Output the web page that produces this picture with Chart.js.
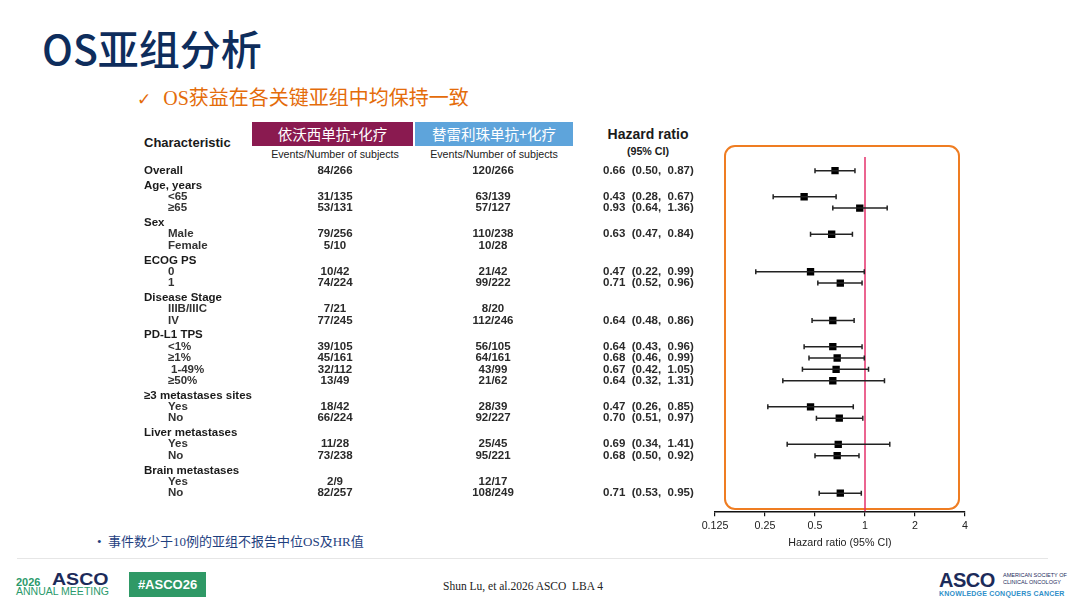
<!DOCTYPE html>
<html>
<head>
<meta charset="utf-8">
<script src="https://cdn.jsdelivr.net/npm/chart.js@4"></script>
<style>
  body { margin:0; width:1080px; height:608px; background:#fff; overflow:hidden; position:relative; font-family:"Liberation Sans", Arial, sans-serif; }
  .abs { position:absolute; white-space:nowrap; }
  #title { left:42px; top:17px; font:500 41px "Noto Sans CJK SC", sans-serif; color:#0e2d5c; }
  #sub { left:137px; top:82px; font:20px "Liberation Serif", "Noto Sans CJK SC", serif; color:#e46c0a; }
  #sub span { font-family:"DejaVu Sans", sans-serif; font-size:17px; font-weight:bold; margin-right:12px; }
  .hbox { top:122px; height:24px; line-height:24px; color:#fff; text-align:center; font:14.5px/24px "Noto Sans CJK SC", sans-serif; }
  .ev { top:148px; font-size:10.7px; color:#222; transform:translateX(-50%); }
  #charh { left:144px; top:135px; font-weight:bold; font-size:13px; color:#1a1a1a; }
  #hrh { left:648px; top:126px; font-weight:bold; font-size:14px; color:#1a1a1a; transform:translateX(-50%); text-align:center; line-height:16px; }
  #hrh small { font-size:10.7px; }
  #obox { left:724px; top:145px; width:236px; height:365px; border:2.5px solid #ef7d22; border-radius:11px; box-sizing:border-box; }
  #note { left:97px; top:531px; font:13px "Liberation Serif", "Noto Sans CJK SC", serif; color:#1f3f7f; }
  #sep { left:17px; top:558px; width:1031px; height:1px; background:#e6e6e6; }
  #cite { left:443px; top:580px; font:11.5px "Liberation Serif", serif; color:#222; }
  #tag { left:129px; top:572px; width:77px; height:25px; background:#2f9966; color:#fff; font-weight:bold; font-size:13px; line-height:25px; text-align:center; }
  canvas { position:absolute; left:0; top:0; }
</style>
</head>
<body>
<div class="abs" id="title">OS亚组分析</div>
<div class="abs" id="sub"><span>✓</span>OS获益在各关键亚组中均保持一致</div>

<div class="abs hbox" style="left:252px;width:161px;background:#8a1a50;">依沃西单抗+化疗</div>
<div class="abs hbox" style="left:415px;width:158px;background:#5ea4db;">替雷利珠单抗+化疗</div>
<div class="abs ev" style="left:335px;">Events/Number of subjects</div>
<div class="abs ev" style="left:494px;">Events/Number of subjects</div>
<div class="abs" id="charh">Characteristic</div>
<div class="abs" id="hrh">Hazard ratio<br><small>(95% CI)</small></div>
<div class="abs" id="obox"></div>

<div class="abs" id="note">•&nbsp;&nbsp;事件数少于10例的亚组不报告中位OS及HR值</div>
<div class="abs" id="sep"></div>

<div class="abs" style="left:16px;top:577px;color:#2b9a6b;font-weight:bold;font-size:11px;line-height:1;">2026</div>
<div class="abs" style="left:52px;top:571px;color:#1c2b5a;font-weight:bold;font-size:17px;line-height:1;transform:scaleX(1.15);transform-origin:left center;">ASCO</div>
<div class="abs" style="left:16px;top:586px;color:#2b9a6b;font-size:10.5px;line-height:1;">ANNUAL MEETING</div>
<div class="abs" id="tag">#ASCO26</div>
<div class="abs" id="cite">Shun Lu, et al.2026 ASCO&nbsp; LBA 4</div>
<div class="abs" style="left:939px;top:569px;color:#1c2b5a;font-weight:bold;font-size:20px;letter-spacing:-0.5px;">ASCO</div>
<div class="abs" style="left:1003px;top:572px;color:#1c2b5a;font-size:5.5px;line-height:7px;">AMERICAN SOCIETY OF<br>CLINICAL ONCOLOGY</div>
<div class="abs" style="left:939px;top:590px;color:#2f8fc9;font-weight:bold;font-size:7px;letter-spacing:0.2px;">KNOWLEDGE CONQUERS CANCER</div>

<canvas id="forest" width="1080" height="608"></canvas>

<script>
// rows of the table, top to bottom (true = section heading)
var rowLabels = ['Overall', 'Age, years', '<65', '≥65', 'Sex', 'Male', 'Female', 'ECOG PS', '0', '1',
  'Disease Stage', 'IIIB/IIIC', 'IV', 'PD-L1 TPS', '<1%', '≥1%', '1-49%', '≥50%',
  '≥3 metastases sites', 'Yes', 'No', 'Liver metastases', 'Yes', 'No', 'Brain metastases', 'Yes', 'No'];
var isHeading = [true, true, false, false, true, false, false, true, false, false,
  true, false, false, true, false, false, false, false,
  true, false, false, true, false, false, true, false, false];
var ivoEvents = ['84/266', '', '31/135', '53/131', '', '79/256', '5/10', '', '10/42', '74/224',
  '', '7/21', '77/245', '', '39/105', '45/161', '32/112', '13/49',
  '', '18/42', '66/224', '', '11/28', '73/238', '', '2/9', '82/257'];
var tisEvents = ['120/266', '', '63/139', '57/127', '', '110/238', '10/28', '', '21/42', '99/222',
  '', '8/20', '112/246', '', '56/105', '64/161', '43/99', '21/62',
  '', '28/39', '92/227', '', '25/45', '95/221', '', '12/17', '108/249'];
var hr = [0.66, null, 0.43, 0.93, null, 0.63, null, null, 0.47, 0.71,
  null, null, 0.64, null, 0.64, 0.68, 0.67, 0.64,
  null, 0.47, 0.70, null, 0.69, 0.68, null, null, 0.71];
var ciLow = [0.50, null, 0.28, 0.64, null, 0.47, null, null, 0.22, 0.52,
  null, null, 0.48, null, 0.43, 0.46, 0.42, 0.32,
  null, 0.26, 0.51, null, 0.34, 0.50, null, null, 0.53];
var ciHigh = [0.87, null, 0.67, 1.36, null, 0.84, null, null, 0.99, 0.96,
  null, null, 0.86, null, 0.96, 0.99, 1.05, 1.31,
  null, 0.85, 0.97, null, 1.41, 0.92, null, null, 0.95];
var xTicks = [0.125, 0.25, 0.5, 1, 2, 4];

// row position: one unit per row, a little extra space above each section heading
var rowPos = [];
var extra = 0;
for (var i = 0; i < rowLabels.length; i++) {
  if (i > 0 && isHeading[i]) extra += 0.3;
  rowPos.push(i + extra);
}

var datasets = [];
for (var i = 0; i < rowLabels.length; i++) {
  if (hr[i] === null) continue;
  datasets.push({
    data: [{x: ciLow[i], y: rowPos[i]}, {x: ciHigh[i], y: rowPos[i]}],
    showLine: true,
    borderColor: '#222',
    borderWidth: 1.5,
    pointStyle: 'line',
    rotation: 90,
    pointRadius: 2.5,
    pointBorderWidth: 1.5,
    pointBorderColor: '#222'
  });
}
var squares = [];
for (var i = 0; i < rowLabels.length; i++) {
  if (hr[i] !== null) squares.push({x: hr[i], y: rowPos[i]});
}
datasets.push({
  data: squares,
  pointStyle: 'rect',
  pointRadius: 5.2,
  backgroundColor: '#000',
  borderColor: '#000',
  borderWidth: 0
});

var refLine = {
  id: 'refLine',
  beforeDatasetsDraw: function(chart) {
    var x = chart.scales.x.getPixelForValue(1);
    var ctx = chart.ctx;
    ctx.save();
    ctx.strokeStyle = '#e4306b';
    ctx.lineWidth = 1.5;
    ctx.beginPath();
    ctx.moveTo(x, chart.chartArea.top);
    ctx.lineTo(x, chart.chartArea.bottom);
    ctx.stroke();
    ctx.restore();
  }
};

var tableText = {
  id: 'tableText',
  afterDraw: function(chart) {
    var ctx = chart.ctx;
    var y = chart.scales.y;
    ctx.save();
    ctx.textBaseline = 'middle';
    ctx.font = 'bold 11.5px "Liberation Sans", Arial, sans-serif';
    for (var i = 0; i < rowLabels.length; i++) {
      var py = y.getPixelForValue(rowPos[i]);
      ctx.fillStyle = isHeading[i] ? '#1a1a1a' : '#333';
      ctx.textAlign = 'left';
      ctx.fillText(rowLabels[i], isHeading[i] ? 144 : (rowLabels[i] === '1-49%' ? 171 : 168), py);
      ctx.textAlign = 'center';
      ctx.fillStyle = '#2a2a2a';
      if (ivoEvents[i]) ctx.fillText(ivoEvents[i], 335, py);
      if (tisEvents[i]) ctx.fillText(tisEvents[i], 493, py);
      if (hr[i] !== null) {
        ctx.textAlign = 'left';
        ctx.fillText(hr[i].toFixed(2) + '  (' + ciLow[i].toFixed(2) + ',  ' + ciHigh[i].toFixed(2) + ')', 603, py);
      }
    }
    ctx.restore();
  }
};

new Chart(document.getElementById('forest'), {
  type: 'scatter',
  data: { datasets: datasets },
  options: {
    responsive: false,
    animation: false,
    layout: { padding: { left: 715, right: 115, top: 157, bottom: 59 } },
    plugins: { legend: { display: false }, tooltip: { enabled: false } },
    scales: {
      x: {
        type: 'logarithmic',
        min: 0.125,
        max: 4,
        afterBuildTicks: function(scale) {
          scale.ticks = xTicks.map(function(v) { return {value: v}; });
        },
        ticks: {
          autoSkip: false,
          maxRotation: 0,
          padding: 3,
          color: '#222',
          font: { family: '"Liberation Sans", Arial, sans-serif', size: 10.7 },
          callback: function(v) { return String(v); }
        },
        grid: { drawOnChartArea: false, drawTicks: true, tickLength: 5, color: '#111', lineWidth: 1.2 },
        border: { display: true, color: '#111', width: 1.5 },
        title: {
          display: true,
          text: 'Hazard ratio (95% CI)',
          color: '#222',
          padding: { top: 1, bottom: 0 },
          font: { family: '"Liberation Sans", Arial, sans-serif', size: 10.7 }
        }
      },
      y: {
        type: 'linear',
        display: false,
        reverse: true,
        min: -1.2,
        max: 30.0
      }
    }
  },
  plugins: [refLine, tableText]
});
</script>
</body>
</html>
